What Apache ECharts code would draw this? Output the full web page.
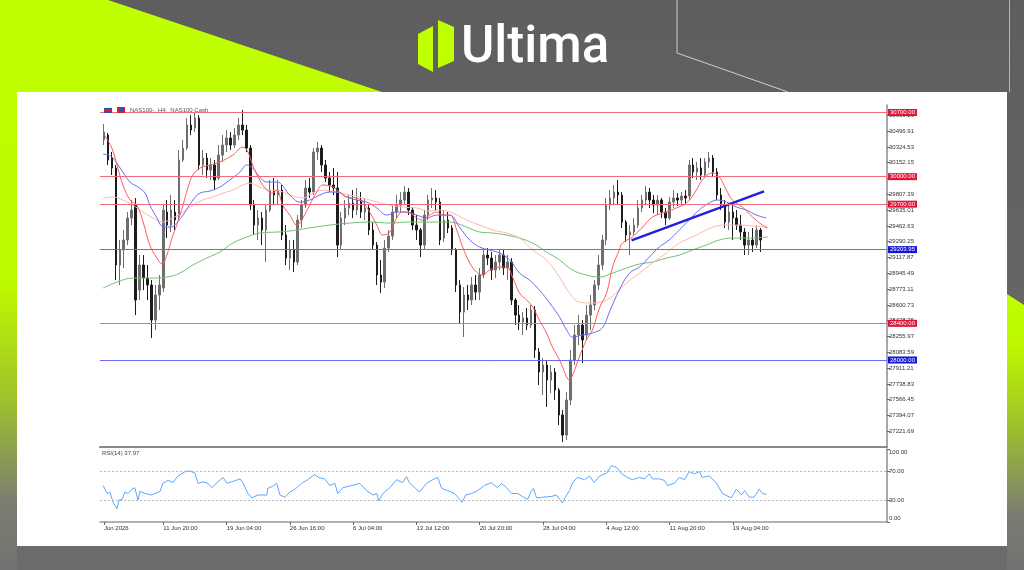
<!DOCTYPE html>
<html><head><meta charset="utf-8">
<script src="https://cdn.jsdelivr.net/npm/echarts@6/dist/echarts.min.js"></script>
<style>html,body{margin:0;padding:0;background:#606060;}#c{width:1024px;height:570px;}</style>
</head><body><div id="c"></div>
<script>
// ---------- DATA ----------
const priceTicks = [30669.29,30496.91,30324.53,30152.15,29979.77,29807.39,29635.01,29462.63,29290.25,29117.87,28945.49,28773.11,28600.73,28428.35,28255.97,28083.59,27911.21,27738.83,27566.45,27394.07,27221.69];
const rsiTicks = [0,30,70,100];
const timeLabels = ["Jun 2026","11 Jun 20:00","19 Jun 04:00","26 Jun 16:00","6 Jul 04:00","13 Jul 12:00","20 Jul 20:00","28 Jul 04:00","4 Aug 12:00","11 Aug 20:00","19 Aug 04:00"];
const timeLabelIndex = [1,16,32,48,64,80,96,112,128,144,160];
const barSlots = 200;
const firstBar = 1;

const opens = [30400,30454,30203,30094,29036,29200,29309,29549,29690,28763,
29036,28894,28818,28436,28709,28785,29614,29472,29614,29581,
30182,30312,30563,30531,30640,30127,30203,30072,30127,29985,
30236,30345,30422,30345,30454,30563,30509,30312,29690,29472,
29549,29418,29636,29854,29800,29854,29363,29112,29200,29069,
29527,29690,29876,29832,30269,30312,30127,29985,29909,29876,
29254,29549,29658,29712,29636,29745,29614,29658,29418,29254,
28927,28850,29221,29352,29614,29690,29745,29832,29636,29472,
29418,29254,29581,29745,29767,29723,29330,29527,29440,29200,
28818,28523,28709,28654,28818,28741,28927,29145,29112,28981,
29069,29145,29003,29069,28654,28490,28414,28458,28381,28545,
28087,27869,27945,27781,27869,27672,27400,27181,27563,28000,
28272,28381,28272,28490,28600,28818,29036,29309,29690,29767,
29832,29800,29505,29363,29396,29472,29658,29745,29832,29745,
29690,29745,29614,29549,29723,29767,29745,29789,29789,30127,
30051,30094,30018,30160,30203,30051,29800,29690,29505,29614,
29549,29472,29396,29254,29309,29254,29418];
const closes = [30487,30182,30094,29036,29200,29309,29549,29636,28654,29036,
28894,28818,28436,28709,28818,29636,29472,29636,29527,30182,
30312,30563,30509,30640,30127,30203,30072,30127,29963,30236,
30345,30422,30345,30454,30563,30509,30312,29690,29472,29549,
29418,29636,29854,29800,29854,29363,29112,29200,29069,29527,
29690,29876,29832,30269,30312,30127,29985,29909,29876,29254,
29549,29658,29712,29636,29745,29614,29658,29418,29254,28927,
28850,29221,29352,29614,29690,29745,29832,29636,29472,29418,
29254,29581,29745,29767,29723,29309,29527,29440,29200,28818,
28523,28709,28654,28818,28741,28927,29145,29112,28981,29069,
29145,29003,29069,28654,28490,28414,28458,28381,28545,28109,
27869,27945,27781,27869,27672,27400,27181,27563,28000,28272,
28381,28218,28490,28600,28818,29036,29309,29690,29767,29832,
29800,29505,29363,29396,29472,29658,29745,29832,29745,29690,
29745,29614,29549,29723,29767,29745,29789,29767,30127,30051,
30094,30018,30160,30203,30051,29800,29690,29505,29614,29549,
29472,29396,29254,29309,29254,29418,29309];
const lows = [30345,30127,30018,28872,28818,29003,29254,29472,28490,28654,
28763,28654,28240,28327,28545,28741,29330,29396,29418,29527,
30160,30291,30454,30487,30072,30018,29985,29963,29854,29963,
30160,30269,30291,30312,30400,30454,30269,29636,29363,29309,
29254,29069,29614,29690,29690,29309,29036,28981,28959,29036,
29440,29658,29767,29800,30182,30051,29941,29832,29800,29123,
29200,29472,29581,29549,29581,29549,29527,29363,29200,28818,
28730,28785,29178,29309,29549,29614,29690,29581,29418,29309,
29123,29200,29527,29658,29636,29254,29287,29385,29145,28741,
28403,28251,28545,28600,28654,28654,28894,29036,28872,28894,
28981,28927,28872,28600,28381,28327,28272,28327,28349,28021,
27727,27618,27487,27639,27563,27290,27105,27127,27509,27945,
28163,27967,28218,28327,28545,28763,28981,29254,29636,29690,
29690,29440,29287,29145,29363,29440,29614,29690,29658,29603,
29581,29549,29472,29527,29658,29680,29690,29701,29745,29985,
29963,29963,29985,30094,29996,29745,29636,29440,29418,29309,
29418,29309,29145,29145,29178,29221,29178];
const highs = [30574,30476,30269,30127,29309,29418,29614,29745,29767,29145,
29145,29036,28872,28818,28927,29690,29745,29800,29745,30291,
30400,30640,30672,30705,30672,30291,30258,30203,30182,30345,
30454,30509,30487,30531,30640,30727,30563,30345,29745,29636,
29614,29690,29963,29985,29963,29909,29472,29309,29309,29581,
29745,29963,29985,30312,30378,30345,30182,30051,30094,30051,
29614,29745,29800,29854,29876,29832,29767,29690,29505,29287,
29091,29309,29418,29690,29800,29832,29898,29876,29658,29581,
29440,29636,29800,29876,29854,29767,29636,29614,29472,29221,
28872,28796,28818,28905,28927,29003,29200,29221,29178,29145,
29200,29200,29145,29112,28676,28600,28523,28567,28600,28589,
28131,28021,28000,27945,27912,27694,27454,27650,28109,28381,
28490,28436,28600,28709,28872,29145,29363,29767,29854,29909,
29963,29832,29527,29472,29549,29745,29800,29898,29876,29800,
29800,29767,29658,29778,29854,29821,29832,29854,30182,30203,
30160,30203,30203,30269,30236,30094,29876,29745,29690,29690,
29636,29581,29440,29396,29440,29472,29440];

const maRed = [[0.8,30476],[3.0,30312],[4.5,30094],[5.8,29909],[7.6,29745],[9.3,29690],[10.9,29505],[12.6,29254],[14.4,29112],[15.7,29047],[16.9,29145],[18.2,29330],[19.4,29472],[21.0,29690],[22.2,29876],[23.5,30018],[25.3,30094],[27.8,30127],[30.3,30160],[33.6,30236],[36.1,30323],[37.4,30269],[38.6,30127],[40.4,29963],[42.2,29854],[43.7,29821],[44.7,29854],[46.2,29690],[48.0,29581],[49.8,29472],[51.3,29549],[53.0,29690],[54.8,29832],[56.3,29909],[58.9,29887],[60.6,29832],[62.4,29778],[64.9,29767],[66.4,29723],[68.2,29614],[70.0,29472],[71.5,29363],[73.3,29396],[75.0,29549],[76.5,29614],[78.3,29603],[80.1,29549],[81.6,29527],[83.4,29581],[85.1,29614],[86.6,29581],[88.4,29581],[90.2,29418],[91.7,29232],[93.5,29058],[95.2,28959],[96.7,28927],[98.5,28981],[101.0,29014],[102.8,29014],[104.3,28905],[106.1,28730],[107.9,28654],[109.4,28578],[111.1,28436],[112.9,28294],[114.4,28142],[116.2,28000],[118.0,27814],[118.7,27781],[119.5,27836],[121.2,28032],[123.0,28218],[124.5,28327],[126.3,28567],[128.1,28730],[129.6,29014],[131.3,29200],[132.1,29276],[134.6,29341],[137.2,29450],[139.7,29560],[143.2,29614],[145.7,29658],[148.3,29712],[150.8,29854],[152.3,29963],[154.8,30040],[156.6,29996],[158.4,29854],[159.9,29745],[162.4,29669],[165.0,29560],[167.5,29472],[168.8,29440]];
const maBlue = [[0.8,30247],[3.0,30214],[5.1,30094],[7.6,29941],[9.6,29887],[11.4,29821],[12.6,29690],[14.4,29549],[15.7,29461],[17.7,29450],[19.4,29494],[21.0,29581],[23.5,29745],[25.3,29821],[27.8,29843],[30.3,29887],[32.8,29963],[35.4,30051],[37.1,30127],[38.6,30094],[40.4,29996],[42.2,29941],[44.7,29941],[48.0,29800],[50.5,29723],[53.0,29745],[55.6,29800],[58.1,29832],[59.9,29832],[62.4,29778],[64.9,29745],[67.4,29723],[70.0,29658],[72.5,29581],[75.0,29614],[77.5,29614],[80.1,29581],[82.6,29549],[85.1,29581],[88.4,29581],[90.9,29450],[93.5,29309],[96.0,29232],[98.5,29200],[101.0,29167],[103.6,29091],[106.1,28948],[108.6,28872],[111.1,28763],[113.7,28621],[116.2,28469],[118.0,28327],[119.5,28251],[122.0,28272],[124.5,28294],[127.0,28349],[128.8,28523],[131.3,28763],[133.9,28948],[136.4,29014],[138.9,29123],[141.4,29232],[143.9,29309],[146.5,29418],[149.0,29527],[151.5,29636],[154.0,29712],[156.1,29745],[158.4,29723],[160.9,29669],[163.4,29636],[166.0,29581],[168.5,29549]];
const maPink = [[0.8,29767],[3.3,29778],[5.8,29745],[8.3,29690],[10.9,29614],[13.4,29549],[15.9,29505],[18.4,29549],[21.0,29614],[23.5,29690],[26.0,29745],[28.5,29778],[31.1,29821],[33.6,29854],[36.1,29909],[37.9,29930],[40.4,29887],[42.9,29854],[45.5,29843],[48.0,29800],[51.3,29767],[53.8,29821],[56.3,29854],[59.9,29832],[63.1,29800],[66.4,29767],[70.0,29723],[73.3,29690],[76.5,29669],[80.1,29658],[83.4,29625],[85.9,29636],[89.2,29603],[92.7,29527],[96.0,29472],[99.3,29418],[102.8,29385],[106.1,29330],[109.4,29200],[112.9,29091],[116.2,28905],[118.7,28730],[121.2,28632],[124.5,28621],[128.1,28654],[131.3,28763],[133.1,28839],[136.4,28948],[139.7,29058],[143.2,29167],[146.5,29276],[149.8,29341],[153.3,29418],[155.8,29461],[158.4,29472],[161.7,29472],[165.0,29461],[168.8,29450]];
const maGreen = [[0.8,28785],[4.3,28850],[8.3,28894],[12.6,28894],[16.9,28905],[20.2,28948],[23.5,29036],[27.0,29112],[30.3,29178],[33.6,29276],[37.1,29341],[40.4,29385],[44.7,29396],[48.0,29407],[53.0,29440],[58.1,29472],[63.1,29494],[68.2,29505],[73.3,29494],[78.3,29505],[83.4,29505],[88.4,29505],[92.7,29450],[96.0,29396],[99.3,29385],[102.8,29363],[106.1,29330],[109.4,29276],[112.9,29178],[116.2,29091],[119.5,28981],[123.0,28927],[126.3,28905],[129.6,28948],[133.1,29003],[136.4,29047],[139.7,29069],[143.2,29112],[146.5,29145],[149.8,29200],[153.3,29254],[156.6,29309],[159.9,29330],[163.4,29330],[168.8,29341]];
const trendLine = [[134.4,29305],[167.9,29840]];
const redLevels = [30700, 30000, 29700, 28400];
const blueLevels = [29203.95, 28000];
const rsiLevels = [70, 30];
const rsi = [[0.8,50],[1.8,39],[2.5,41],[3.3,27],[4.3,18],[4.8,30],[5.6,31],[6.3,41],[7.1,39],[8.1,45],[8.8,47],[9.3,46],[9.6,30],[10.1,42],[11.4,39],[13.1,37],[13.9,39],[15.2,42],[15.9,53],[17.2,57],[18.4,54],[19.7,63],[21.5,69],[22.7,70],[24.0,67],[24.8,53],[26.0,55],[27.3,53],[28.3,47],[29.6,54],[31.1,61],[32.1,53],[33.3,55],[35.4,59],[36.1,54],[37.4,39],[38.4,33],[39.9,37],[42.2,37],[42.4,46],[43.7,49],[44.7,53],[45.5,37],[46.7,34],[48.0,41],[49.3,45],[51.0,53],[52.5,58],[54.3,65],[55.3,61],[56.8,59],[58.1,50],[59.4,53],[60.1,39],[61.4,47],[63.7,50],[65.7,53],[67.4,43],[69.0,37],[70.0,39],[70.5,29],[71.5,39],[73.3,47],[75.0,58],[76.5,54],[77.5,62],[78.3,53],[79.6,47],[80.8,41],[82.6,53],[84.1,58],[85.4,61],[86.4,46],[87.9,43],[89.7,39],[91.5,27],[92.5,37],[94.0,39],[95.5,43],[97.2,50],[98.9,54],[100.5,47],[101.5,53],[102.8,47],[104.1,39],[105.6,39],[106.8,35],[108.1,31],[109.1,43],[109.6,46],[110.4,33],[111.9,34],[114.2,35],[115.4,37],[116.2,31],[116.9,26],[117.7,34],[118.7,43],[119.5,54],[120.7,61],[122.5,58],[123.8,63],[125.0,54],[126.3,63],[128.1,67],[129.3,77],[130.6,75],[131.9,66],[133.4,61],[134.6,58],[136.4,61],[137.7,59],[138.9,66],[139.7,59],[141.4,59],[142.7,57],[143.5,50],[145.2,53],[146.5,61],[147.8,58],[149.0,69],[150.3,66],[151.6,69],[152.3,61],[154.0,63],[155.8,54],[157.4,39],[159.6,33],[160.9,45],[162.2,37],[163.0,43],[164.2,34],[165.4,34],[166.7,45],[167.5,39],[168.5,37.97]];

// ---------- BUILD ----------
const FONT = 'Liberation Sans, Arial, sans-serif';
const cats = new Array(barSlots).fill('');
timeLabelIndex.forEach((ix, k) => { cats[ix] = timeLabels[k]; });
const candleData = opens.map((o, k) => [firstBar + k, o, closes[k], lows[k], highs[k]]);
const showCat = (i, v) => v !== '';

const levelLines = redLevels.map(v => ({
  yAxis: v,
  lineStyle: { color: '#ef6b7e', width: 1, type: 'solid' },
  label: { backgroundColor: '#e3143a' }
})).concat(blueLevels.map(v => ({
  yAxis: v,
  lineStyle: { color: '#6b6bee', width: 1, type: 'solid' },
  label: { backgroundColor: '#1414d8' }
})));

const gridL = 100, gridR = 137;
const chart = echarts.init(document.getElementById('c'));

const limeGradL = { type: 'linear', x: 0, y: 0, x2: 0, y2: 570, global: true,
  colorStops: [{ offset: 0, color: '#c0ff00' }, { offset: 0.5, color: '#bdf900' }, { offset: 0.7, color: '#9ec22c' }, { offset: 0.88, color: '#7c7e70' }, { offset: 1, color: '#727272' }] };
const limeGradR = { type: 'linear', x: 0, y: 290, x2: 0, y2: 570, global: true,
  colorStops: [{ offset: 0, color: '#c0ff00' }, { offset: 0.2, color: '#bdf800' }, { offset: 0.5, color: '#9cbf2e' }, { offset: 0.8, color: '#7a7c72' }, { offset: 1, color: '#727272' }] };

chart.setOption({
  animation: false,
  graphic: [
    { type: 'rect', z: -100, shape: { x: 0, y: 0, width: 1024, height: 570 },
      style: { fill: { type: 'linear', x: 0, y: 0, x2: 0, y2: 570, global: true, colorStops: [{ offset: 0, color: '#5e5e5e' }, { offset: 1, color: '#6c6c6c' }] } } },
    { type: 'polygon', z: -99, shape: { points: [[0, 0], [108, 0], [382, 92], [17, 92], [17, 570], [0, 570]] }, style: { fill: limeGradL } },
    { type: 'polygon', z: -99, shape: { points: [[1007, 294], [1024, 305], [1024, 570], [1007, 570]] }, style: { fill: limeGradR } },
    { type: 'polyline', z: -98, shape: { points: [[677, 0], [677, 53], [788, 92]] }, style: { stroke: '#cfcfcf', lineWidth: 1, fill: null } },
    { type: 'line', z: -98, shape: { x1: 1009.5, y1: 0, x2: 1009.5, y2: 92 }, style: { stroke: '#b5b5b5', lineWidth: 1 } },
    { type: 'rect', z: -97, shape: { x: 17, y: 92, width: 990, height: 454 }, style: { fill: '#ffffff' } },
    // logo
    { type: 'polygon', z: 50, shape: { points: [[418, 34], [433, 26], [433, 72], [418, 64]] }, style: { fill: '#c0ff00' } },
    { type: 'polygon', z: 50, shape: { points: [[438, 20], [454, 27], [454, 61], [438, 68]] }, style: { fill: '#c0ff00' } },
    { type: 'text', z: 50, x: 461, y: 49, style: { text: 'Ultima', fill: '#ffffff', font: '500 51px Roboto, Inter, sans-serif', verticalAlign: 'middle', align: 'left' } },
    // chart header
    { type: 'rect', z: 50, shape: { x: 104, y: 108, width: 8, height: 5 }, style: { fill: '#2d4fb8' } },
    { type: 'rect', z: 51, shape: { x: 104, y: 110, width: 8, height: 1 }, style: { fill: '#d02828' } },
    { type: 'rect', z: 50, shape: { x: 117, y: 107, width: 8, height: 6 }, style: { fill: '#c82a2a' } },
    { type: 'rect', z: 51, shape: { x: 120, y: 108, width: 4, height: 4 }, style: { fill: '#2d4fb8' } },
    { type: 'text', z: 50, x: 130, y: 110.5, style: { text: 'NAS100-, H4:  NAS100.Cash', fill: '#555', font: '6px ' + FONT, verticalAlign: 'middle' } },
    { type: 'text', z: 50, x: 102, y: 453, style: { text: 'RSI(14) 37.97', fill: '#444', font: '6px ' + FONT, verticalAlign: 'middle' } }
  ],
  grid: [
    { left: gridL, right: gridR, top: 105, height: 342 },
    { left: gridL, right: gridR, top: 449, height: 73 }
  ],
  xAxis: [
    { type: 'category', gridIndex: 0, data: cats, boundaryGap: false,
      axisLine: { onZero: false, lineStyle: { color: '#888', width: 2 } }, axisTick: { show: false }, axisLabel: { show: false }, splitLine: { show: false } },
    { type: 'value', gridIndex: 0, min: 0, max: barSlots - 1, show: false },
    { type: 'category', gridIndex: 1, data: cats, boundaryGap: false,
      axisLine: { onZero: false, lineStyle: { color: '#999', width: 1.5 } },
      axisTick: { show: true, interval: showCat, length: 3, lineStyle: { color: '#666' } },
      axisLabel: { interval: showCat, align: 'left', margin: 3, fontSize: 6, color: '#333', fontFamily: FONT },
      splitLine: { show: false } },
    { type: 'value', gridIndex: 1, min: 0, max: barSlots - 1, show: false }
  ],
  yAxis: [
    { type: 'value', gridIndex: 0, position: 'right', min: 27050.9, max: 30781.8,
      axisLine: { show: true, onZero: false, lineStyle: { color: '#8a8a8a', width: 1.5 } },
      axisTick: { show: true, customValues: priceTicks, length: 3, lineStyle: { color: '#666' } },
      axisLabel: { customValues: priceTicks, formatter: v => v.toFixed(2), fontSize: 6, color: '#333', margin: 2, fontFamily: FONT },
      splitLine: { show: false } },
    { type: 'value', gridIndex: 1, position: 'right', min: 0, max: 100,
      axisLine: { show: true, onZero: false, lineStyle: { color: '#8a8a8a', width: 1.5 } },
      axisTick: { show: true, customValues: rsiTicks, length: 3, lineStyle: { color: '#666' } },
      axisLabel: { customValues: rsiTicks, margin: 2,
        formatter: v => v === 100 ? '{t|100.00}' : (v === 0 ? '{b|0.00}' : '{n|' + v.toFixed(2) + '}'),
        rich: {
          t: { fontSize: 6, color: '#333', fontFamily: FONT, padding: [7, 0, 0, 0] },
          b: { fontSize: 6, color: '#333', fontFamily: FONT, padding: [0, 0, 7, 0] },
          n: { fontSize: 6, color: '#333', fontFamily: FONT }
        } },
      splitLine: { show: false } }
  ],
  series: [
    { type: 'candlestick', name: 'NAS100', xAxisIndex: 0, yAxisIndex: 0, data: candleData,
      encode: { x: 0, y: [1, 2, 3, 4] }, barWidth: 2, large: false,
      itemStyle: { color: '#6e6e6e', color0: '#1c1c1c', borderColor: '#6e6e6e', borderColor0: '#1c1c1c', borderWidth: 1 },
      markLine: { silent: true, symbol: ['none', 'none'], animation: false,
        label: { show: true, position: 'end', distance: 1, color: '#fff', fontSize: 6, fontFamily: FONT, padding: [1, 2, 0, 2],
          formatter: p => Number(p.value).toFixed(2) },
        data: levelLines }
    },
    { type: 'line', name: 'MA slow', xAxisIndex: 1, yAxisIndex: 0, data: maGreen, smooth: 0.4, showSymbol: false,
      lineStyle: { color: '#72c072', width: 1 }, z: 3 },
    { type: 'line', name: 'MA mid2', xAxisIndex: 1, yAxisIndex: 0, data: maPink, smooth: 0.4, showSymbol: false,
      lineStyle: { color: '#ffb9aa', width: 1 }, z: 3 },
    { type: 'line', name: 'MA mid', xAxisIndex: 1, yAxisIndex: 0, data: maBlue, smooth: 0.4, showSymbol: false,
      lineStyle: { color: '#6c6cf0', width: 1 }, z: 3 },
    { type: 'line', name: 'MA fast', xAxisIndex: 1, yAxisIndex: 0, data: maRed, smooth: 0.4, showSymbol: false,
      lineStyle: { color: '#ff5a5a', width: 1 }, z: 3 },
    { type: 'line', name: 'Trend', xAxisIndex: 1, yAxisIndex: 0, data: trendLine, showSymbol: false,
      lineStyle: { color: '#2020dd', width: 2.5 }, z: 4 },
    { type: 'line', name: 'RSI(14)', xAxisIndex: 3, yAxisIndex: 1, data: rsi, showSymbol: false,
      lineStyle: { color: '#5aa8ff', width: 1 },
      markLine: { silent: true, symbol: ['none', 'none'], label: { show: false },
        lineStyle: { color: '#b8b8b8', type: [2, 2], width: 1 },
        data: rsiLevels.map(v => ({ yAxis: v })) } }
  ]
});
</script></body></html>
